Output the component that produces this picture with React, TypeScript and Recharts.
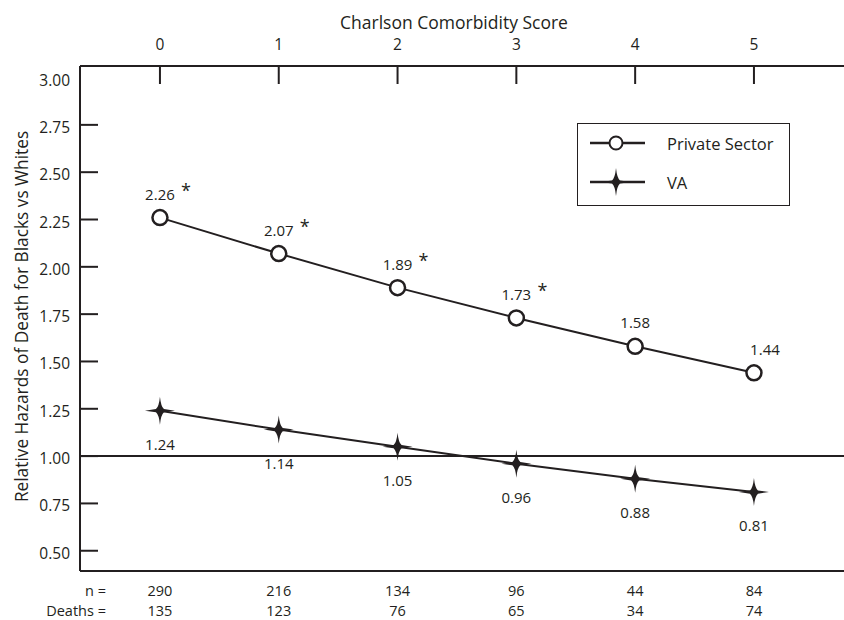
import React from 'react';
import { LineChart, Line, XAxis, YAxis, ReferenceLine, Legend, LabelList, Label } from 'recharts';

// Charlson comorbidity score vs relative hazard of death (Blacks vs Whites)
const scores = [0, 1, 2, 3, 4, 5];
const privateSector = [2.26, 2.07, 1.89, 1.73, 1.58, 1.44];
const vaHazard = [1.24, 1.14, 1.05, 0.96, 0.88, 0.81];
const significant = [true, true, true, true, false, false];
const nCounts = [290, 216, 134, 96, 44, 84];
const deathCounts = [135, 123, 76, 65, 34, 74];
const yTicks = [0.5, 0.75, 1, 1.25, 1.5, 1.75, 2, 2.25, 2.5, 2.75, 3];

const data = scores.map((s, i) => ({
  score: s,
  priv: privateSector[i],
  va: vaHazard[i],
}));

const INK = '#231f20';
const FONT = '"Open Sans", sans-serif';

const starPath = (cx: number, cy: number) =>
  `M${cx},${cy - 14} Q${cx + 1},${cy - 4} ${cx + 4},${cy - 1.6} L${cx + 15},${cy} ` +
  `L${cx + 4},${cy + 1.6} Q${cx + 1},${cy + 4} ${cx},${cy + 14} ` +
  `Q${cx - 1},${cy + 4} ${cx - 4},${cy + 1.6} L${cx - 15},${cy} ` +
  `L${cx - 4},${cy - 1.6} Q${cx - 1},${cy - 4} ${cx},${cy - 14} Z`;

const Ring = (p: any) =>
  p.cx == null ? null : (
    <circle cx={p.cx} cy={p.cy} r={7.5} fill="#fff" stroke={INK} strokeWidth={2.5} />
  );

const Star = (p: any) => (p.cx == null ? null : <path d={starPath(p.cx, p.cy)} fill={INK} />);

const TopTick = ({ x, y, payload }: any) => (
  <g>
    <line x1={x} y1={y} x2={x} y2={y + 18} stroke={INK} strokeWidth={2} />
    <text x={x} y={y - 22} textAnchor="middle" dominantBaseline="central" fontSize={15.5} fill={INK} fontFamily={FONT}>
      {payload.value}
    </text>
  </g>
);

const LeftTick = ({ x, y, payload }: any) => (
  <g>
    {payload.value < 3 && <line x1={x} y1={y} x2={x + 18} y2={y} stroke={INK} strokeWidth={2} />}
    <text x={x - 10} y={y + 2} textAnchor="end" dominantBaseline="central" fontSize={15.5} fill={INK} fontFamily={FONT}>
      {payload.value.toFixed(2)}
    </text>
  </g>
);

const BottomTick = ({ x, y, payload }: any) => {
  const i = scores.indexOf(payload.value);
  const txt = { fontSize: 14.5, fill: INK, fontFamily: FONT, dominantBaseline: 'central' as const };
  return (
    <g>
      {i === 0 && (
        <>
          <text x={x - 54} y={y + 19} textAnchor="end" {...txt}>n =</text>
          <text x={x - 54} y={y + 39} textAnchor="end" {...txt}>Deaths =</text>
        </>
      )}
      <text x={x} y={y + 19} textAnchor="middle" {...txt}>{nCounts[i]}</text>
      <text x={x} y={y + 39} textAnchor="middle" {...txt}>{deathCounts[i]}</text>
    </g>
  );
};

const PrivLabel = ({ x, y, value, index }: any) => {
  const dx = index === scores.length - 1 ? 11 : 0;
  return (
    <g fontFamily={FONT} fill={INK}>
      <text x={x + dx} y={y - 24} textAnchor="middle" dominantBaseline="central" fontSize={15}>
        {Number(value).toFixed(2)}
      </text>
      {significant[index] && (
        <text x={x + 26} y={y - 28} textAnchor="middle" dominantBaseline="central" fontSize={18}>*</text>
      )}
    </g>
  );
};

const VaLabel = ({ x, y, value }: any) => (
  <text x={x} y={y + 33} textAnchor="middle" dominantBaseline="central" fontSize={15} fill={INK} fontFamily={FONT}>
    {Number(value).toFixed(2)}
  </text>
);

const LegendBox = ({ payload }: any) => (
  <div style={{ width: 213, height: 83, border: `1.5px solid ${INK}`, boxSizing: 'border-box', background: '#fff' }}>
    <svg width={210} height={80}>
      {(payload || []).map((e: any, i: number) => {
        const cy = 19 + i * 39;
        return (
          <g key={e.value}>
            <line x1={12} x2={67} y1={cy} y2={cy} stroke={INK} strokeWidth={2.5} />
            {e.dataKey === 'priv' ? (
              <circle cx={38} cy={cy} r={6.5} fill="#fff" stroke={INK} strokeWidth={2} />
            ) : (
              <path d={starPath(38, cy)} fill={INK} />
            )}
            <text x={89} y={cy} dominantBaseline="central" fontSize={16.5} fill={INK} fontFamily={FONT}>
              {e.value}
            </text>
          </g>
        );
      })}
    </svg>
  </div>
);

export default function App() {
  return (
    <div style={{ position: 'absolute', left: 0, top: 0, width: 844, height: 620, background: '#fff' }}>
      <LineChart width={844} height={620} data={data} margin={{ top: 0, right: 0, bottom: 0, left: 0 }}>
        <XAxis
          xAxisId="top"
          orientation="top"
          dataKey="score"
          type="number"
          domain={[-0.673, 5.758]}
          ticks={scores}
          height={66}
          tickSize={0}
          tickMargin={0}
          tickLine={false}
          axisLine={{ stroke: INK, strokeWidth: 2 }}
          tick={<TopTick />}
          interval={0}
        >
          <Label
            content={({ viewBox }: any) => (
              <text x={viewBox.x + viewBox.width / 2 - 8} y={viewBox.y + 22} textAnchor="middle" dominantBaseline="central" fontSize={17.5} fill={INK} fontFamily={FONT}>
                Charlson Comorbidity Score
              </text>
            )}
          />
        </XAxis>
        <XAxis
          xAxisId="bottom"
          orientation="bottom"
          dataKey="score"
          type="number"
          domain={[-0.673, 5.758]}
          ticks={scores}
          height={49}
          tickSize={0}
          tickMargin={0}
          tickLine={false}
          axisLine={{ stroke: INK, strokeWidth: 2 }}
          tick={<BottomTick />}
          interval={0}
        />
        <YAxis
          type="number"
          domain={[0.393, 3.061]}
          ticks={yTicks}
          allowDataOverflow
          width={80}
          tickSize={0}
          tickMargin={0}
          tickLine={false}
          axisLine={{ stroke: INK, strokeWidth: 2 }}
          tick={<LeftTick />}
          interval={0}
        >
          <Label
            content={({ viewBox }: any) => {
              const lx = 21;
              const ly = viewBox.y + viewBox.height / 2 - 2;
              return (
                <text x={lx} y={ly} transform={`rotate(-90, ${lx}, ${ly})`} textAnchor="middle" dominantBaseline="central" fontSize={17.3} fill={INK} fontFamily={FONT}>
                  Relative Hazards of Death for Blacks vs Whites
                </text>
              );
            }}
          />
        </YAxis>
        <ReferenceLine xAxisId="top" y={1} stroke={INK} strokeWidth={2} />
        <Legend
          layout="vertical"
          align="center"
          verticalAlign="middle"
          content={<LegendBox />}
          wrapperStyle={{ left: 577, top: 123, width: 213, height: 83 }}
        />
        <Line
          xAxisId="top"
          dataKey="priv"
          name="Private Sector"
          stroke={INK}
          strokeWidth={2}
          dot={<Ring />}
          activeDot={false}
          isAnimationActive={false}
        >
          <LabelList dataKey="priv" content={<PrivLabel />} />
        </Line>
        <Line
          xAxisId="top"
          dataKey="va"
          name="VA"
          stroke={INK}
          strokeWidth={2}
          dot={<Star />}
          activeDot={false}
          isAnimationActive={false}
        >
          <LabelList dataKey="va" content={<VaLabel />} />
        </Line>
      </LineChart>
    </div>
  );
}
